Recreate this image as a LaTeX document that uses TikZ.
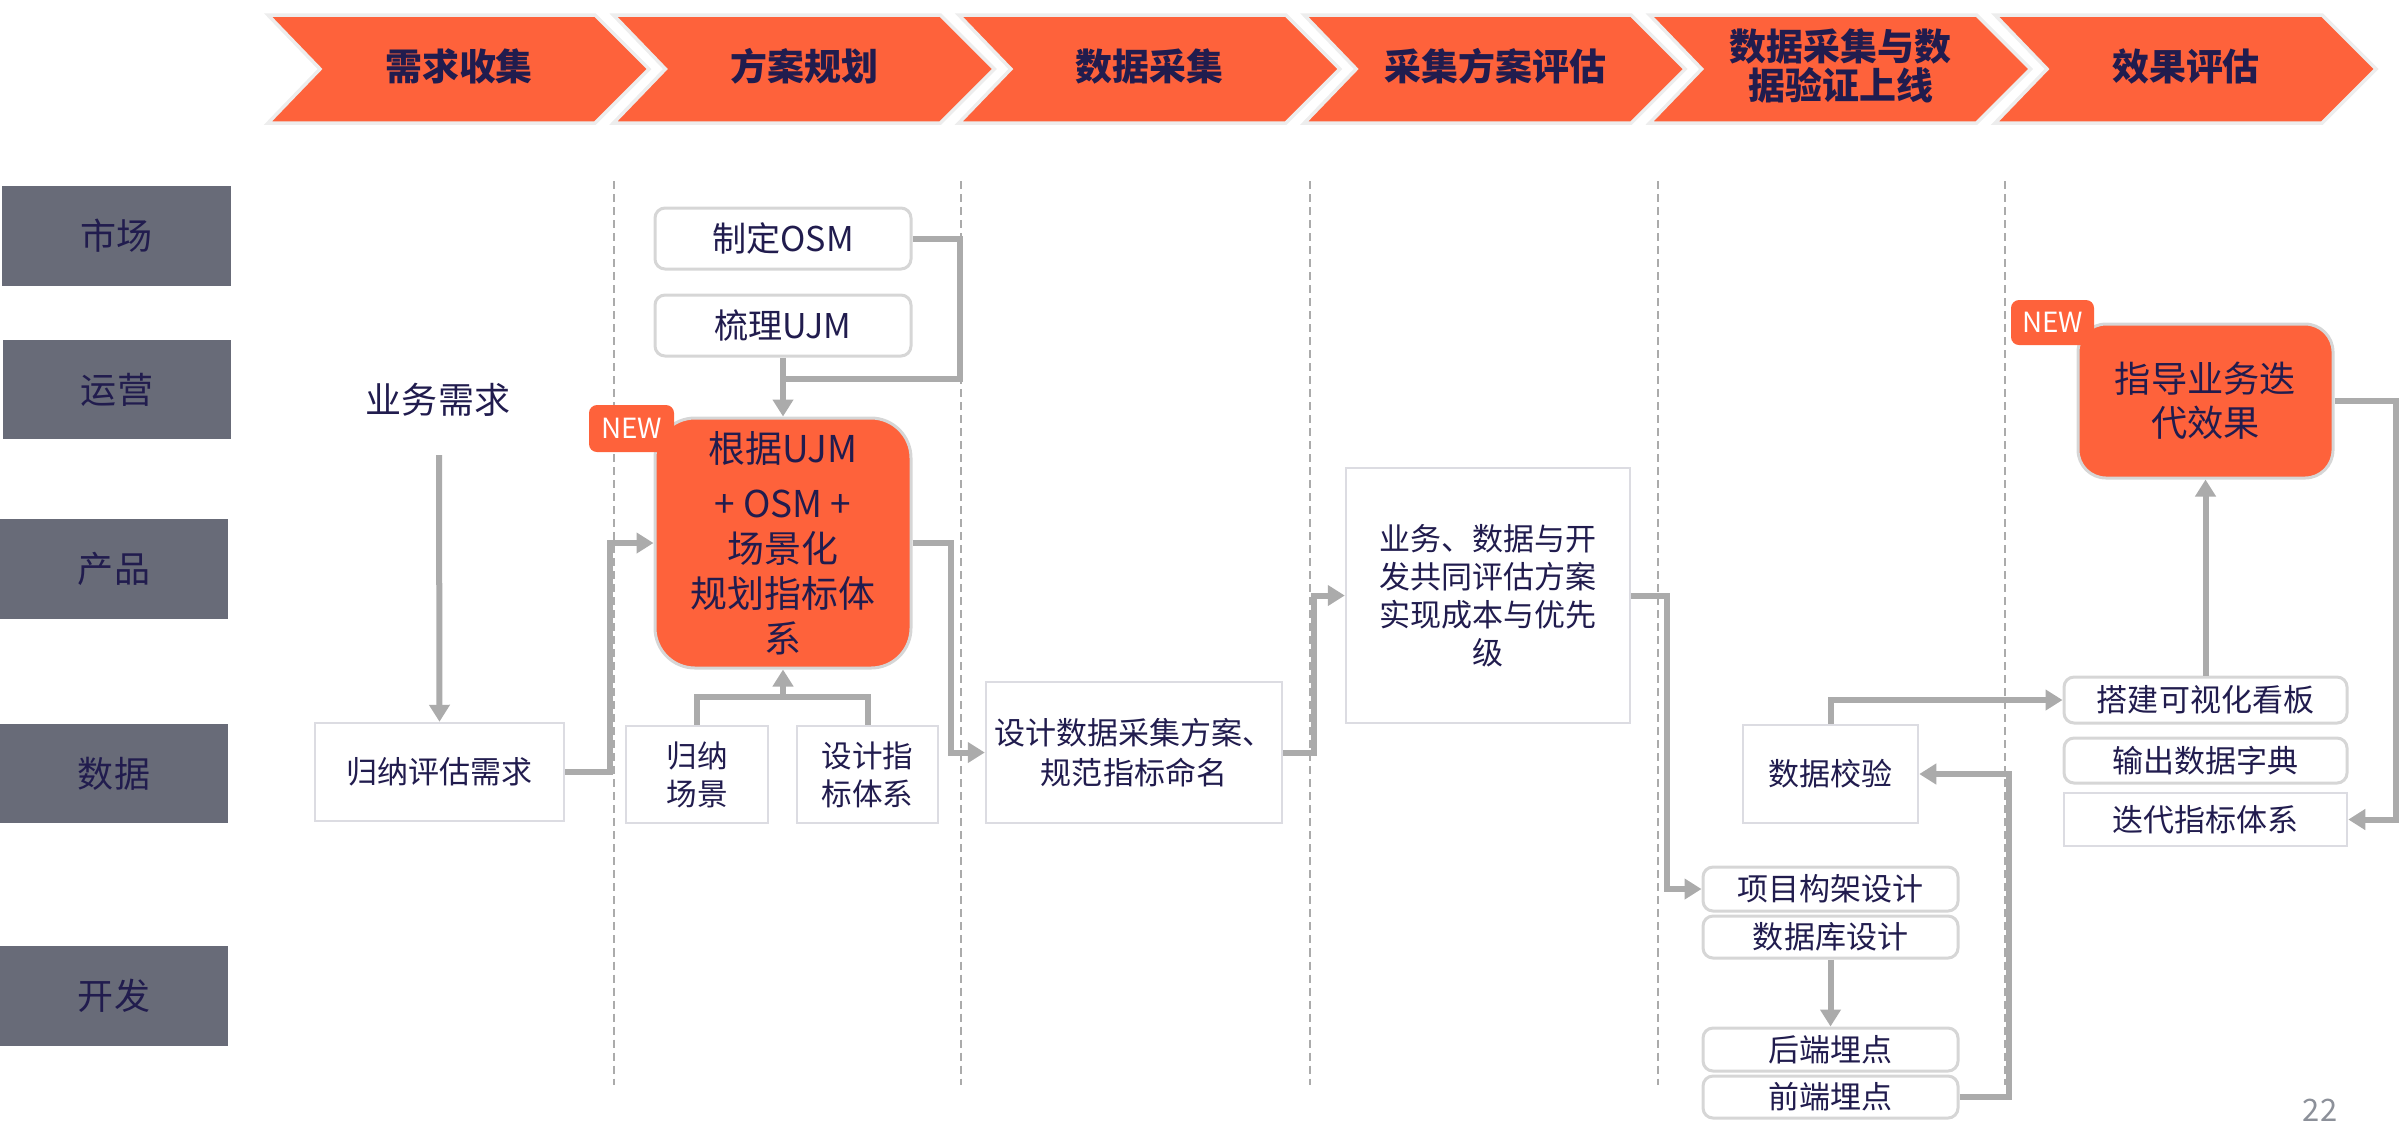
\documentclass[tikz,border=0pt]{standalone}
\usepackage{fontspec}
\setmainfont{Noto Sans CJK SC}
\usetikzlibrary{arrows.meta}
\definecolor{navy}{HTML}{211C4E}
\definecolor{orng}{HTML}{FE623B}
\definecolor{lblgray}{HTML}{686B78}
\definecolor{lngray}{HTML}{ABABAB}
\definecolor{bdgray}{HTML}{DCDCE2}
\definecolor{rbgray}{HTML}{D6D6D6}
\definecolor{chevb}{HTML}{EDEDED}
\definecolor{pggray}{HTML}{8C9099}
\newcommand\bx[7]{\node[#6, minimum width={(#4-#2)*0.01cm}, minimum height={(#5-#3)*0.01cm}] (#1) at ({(#2+#4)/2},{(#3+#5)/2}) {#7};}
\newcommand\chev[3]{%
  \filldraw[fill=orng, draw=chevb, line width=0.035cm, line join=miter] (#2,15) -- ++(327,0) -- ++(54,54) -- ++(-54,54) -- ++(-327,0) -- ++(52,-54) -- cycle;
  \node[chevtxt] (#1) at ({#2+191},66) {#3};}
\tikzset{
  x=0.01cm, y=-0.01cm,
  chevtxt/.style={text=navy, font=\fontsize{10.5pt}{11.1pt}\selectfont\bfseries, align=center, inner sep=0pt},
  lbl/.style={fill=lblgray, text=navy, font=\fontsize{10.24pt}{12pt}\selectfont, inner sep=0pt},
  sq/.style={draw=bdgray, line width=0.025cm, fill=white, text=navy, font=\fontsize{8.82pt}{10.8pt}\selectfont, align=center, inner sep=0pt},
  rbox/.style={sq, draw=rbgray, line width=0.03cm, rounded corners=0.1cm},
  obox/.style={fill=orng, draw=rbgray, line width=0.03cm, text=navy, align=center, inner sep=0pt},
  badge/.style={fill=orng, rounded corners=0.08cm, text=white, font=\fontsize{7.9pt}{9pt}\selectfont, inner sep=0pt},
  ln/.style={draw=lngray, line width=0.06cm},
  arr/.style={ln, -{Triangle[length=0.17cm, width=0.2cm]}},
  dline/.style={draw=lngray, line width=0.02cm, dash pattern=on 0.08cm off 0.05cm},
}
\begin{document}
\begin{tikzpicture}
\useasboundingbox (0,0) rectangle (2407,1123);
% phase chevrons
\chev{c1}{268}{需求收集}
\chev{c2}{613.4}{方案规划}
\chev{c3}{958.8}{数据采集}
\chev{c4}{1304.2}{采集方案评估}
\chev{c5}{1649.6}{数据采集与数\\据验证上线}
\chev{c6}{1995}{效果评估}
% dashed separators
\foreach \x in {614,961,1310,1658,2005} \draw[dline] (\x,181) -- (\x,1085);
% role labels
\bx{r1}{2}{186}{231}{286}{lbl}{市场}
\bx{r2}{3}{340}{231}{439}{lbl}{运营}
\bx{r3}{0}{519}{228}{619}{lbl}{产品}
\bx{r4}{0}{724}{228}{823}{lbl}{数据}
\bx{r5}{0}{946}{228}{1046}{lbl}{开发}
% column 1
\node[text=navy, font=\fontsize{10.24pt}{12pt}\selectfont, inner sep=0pt] (need) at (438,400) {业务需求};
\coordinate (needtail) at (439,455);
\bx{guina}{315}{723}{564}{821}{sq}{归纳评估需求}
% column 2
\bx{osm}{655}{208}{911}{269}{rbox, font=\fontsize{9.7pt}{11pt}\selectfont}{制定OSM}
\bx{ujm}{655}{295}{911}{356}{rbox, font=\fontsize{9.7pt}{11pt}\selectfont}{梳理UJM}
\bx{big}{655}{418}{911}{668}{obox, rounded corners=0.4cm, font=\fontsize{10.5pt}{12.8pt}\selectfont}{根据UJM\\[2.8pt]+ OSM +\\场景化\\规划指标体\\系}
\bx{new1}{589}{405}{674}{452}{badge}{NEW}
\bx{scene}{626}{726}{768}{823}{sq, font=\fontsize{8.7pt}{10.8pt}\selectfont}{归纳\\场景}
\bx{design}{797}{726}{938}{823}{sq, font=\fontsize{8.7pt}{10.8pt}\selectfont}{设计指\\标体系}
\coordinate (j1) at (783,379);
\coordinate (j2) at (783,698);
% column 3
\bx{plan}{986}{682}{1282}{823}{sq, font=\fontsize{8.82pt}{11.4pt}\selectfont}{设计数据采集方案、\\规范指标命名}
% column 4
\bx{eval}{1346}{468}{1630}{723}{sq}{业务、数据与开\\发共同评估方案\\实现成本与优先\\级}
% column 5
\bx{check}{1743}{725}{1918}{823}{sq}{数据校验}
\bx{arch}{1703}{867}{1958}{911}{rbox}{项目构架设计}
\bx{db}{1703}{916}{1958}{958}{rbox}{数据库设计}
\bx{back}{1703}{1028}{1958}{1071}{rbox}{后端埋点}
\bx{front}{1703}{1076}{1958}{1118}{rbox}{前端埋点}
% column 6
\bx{guide}{2078}{324}{2333}{478}{obox, rounded corners=0.28cm, font=\fontsize{10.3pt}{12.5pt}\selectfont}{指导业务迭\\代效果}
\bx{new2}{2011}{300}{2094}{345}{badge}{NEW}
\bx{board}{2064}{677}{2347}{723}{rbox}{搭建可视化看板}
\bx{dict}{2064}{738}{2347}{783}{rbox}{输出数据字典}
\bx{iter}{2064}{793}{2347}{846}{sq}{迭代指标体系}
\node[text=pggray, font=\fontsize{8.8pt}{10pt}\selectfont, inner sep=0pt] (pg) at (2320,1110) {22};
% connectors
\draw[arr] (needtail) -- (guina.north);
\draw[arr] (guina.east) -- ++(45,0) |- (big.west);
\draw[ln] (osm.east) -- ++(47,0) |- (j1);
\draw[arr] (ujm.south) -- (j1) -- (big.north);
\draw[ln] (scene.north) -- ++(0,-28) -| (design.north);
\draw[arr] (j2) -- (big.south);
\draw[arr] (big.east) -- ++(38,0) |- (plan.west);
\draw[arr] (plan.east) -- ++(31,0) |- (eval.west);
\draw[arr] (eval.east) -- ++(36,0) |- (arch.west);
\draw[arr] (db.south) -- (back.north);
\draw[arr] (front.east) -- ++(49,0) |- (check.east);
\draw[arr] (check.north) |- (board.west);
\draw[arr] (board.north) -- (guide.south);
\draw[arr] (guide.east) -- ++(61,0) |- (iter.east);
\end{tikzpicture}
\end{document}
